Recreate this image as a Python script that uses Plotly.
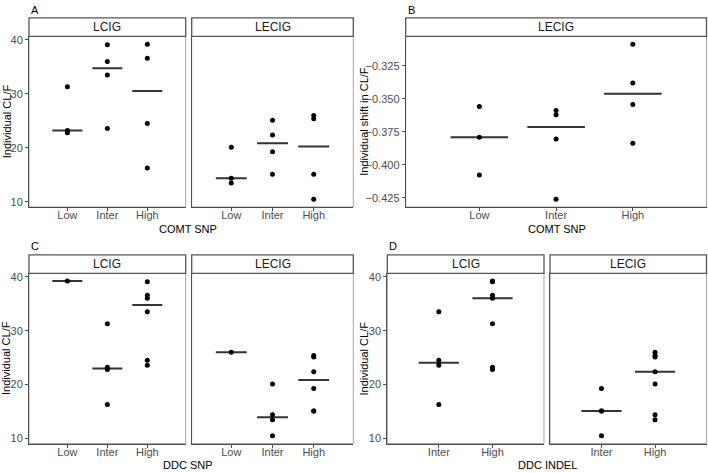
import numpy as np
import plotly.graph_objects as go

W, H = 708, 473

comt_levels = ["Low", "Inter", "High"]
ddc_snp_levels = ["Low", "Inter", "High"]
ddc_indel_levels = ["Inter", "High"]

# A: individual CL/F by COMT SNP
a_lcig = [[31.3, 23.2, 22.8], [39.1, 36.0, 33.5, 23.6], [39.2, 36.6, 24.5, 16.3]]
a_lecig = [[20.1, 14.4, 13.5], [25.1, 22.4, 19.3, 15.1], [26.0, 25.4, 15.1, 10.5]]
# B: individual shift in CL/F (LECIG) by COMT SNP
b_lecig = [[-0.3558, -0.3791, -0.4078],
           [-0.3588, -0.3621, -0.3804, -0.4261],
           [-0.3085, -0.3379, -0.3543, -0.3837]]
# C: individual CL/F by DDC SNP
c_lcig = [[39.2], [31.3, 23.2, 22.8, 16.3], [39.1, 36.6, 36.0, 33.5, 24.5, 23.6]]
c_lecig = [[26.0], [20.1, 14.4, 13.5, 10.5], [25.4, 25.1, 22.4, 19.3, 15.1, 15.1]]
# D: individual CL/F by DDC INDEL
d_lcig = [[33.5, 24.5, 23.6, 16.3], [39.2, 39.1, 36.6, 36.0, 31.3, 23.2, 22.8]]
d_lecig = [[19.3, 15.1, 15.1, 10.5], [26.0, 25.4, 25.1, 22.4, 20.1, 14.4, 13.5]]

FONT = "Liberation Sans"


def px_x(v):
    return v / W


def px_y(v):
    return 1 - v / H


def yrange(groups_list):
    vals = np.concatenate([np.concatenate([np.array(g) for g in groups]) for groups in groups_list])
    lo, hi = vals.min(), vals.max()
    pad = 0.05 * (hi - lo)
    return [lo - pad, hi + pad]


fig = go.Figure()
layout = dict(width=W, height=H, margin=dict(l=0, r=0, t=0, b=0),
              paper_bgcolor="white", plot_bgcolor="white",
              showlegend=False, font=dict(family=FONT, size=11, color="black"))
shapes = []
annotations = []

cl_range = yrange([a_lcig, a_lecig, c_lcig, c_lecig, d_lcig, d_lecig])
b_range = yrange([b_lecig])

# (groups, levels, x0, x1, y0, y1, strip, show y ticks, y range, tick values)
panels = [
    (a_lcig, comt_levels, 29, 185.7, 33.7, 205.7, "LCIG", True, cl_range, [10, 20, 30, 40]),
    (a_lecig, comt_levels, 191.7, 353.3, 33.7, 205.7, "LECIG", False, cl_range, [10, 20, 30, 40]),
    (b_lecig, comt_levels, 405.7, 706.5, 33.7, 205.7, "LECIG", True, b_range,
     [-0.425, -0.4, -0.375, -0.35, -0.325]),
    (c_lcig, ddc_snp_levels, 29, 185.7, 272.7, 444.3, "LCIG", True, cl_range, [10, 20, 30, 40]),
    (c_lecig, ddc_snp_levels, 191.7, 353.3, 272.7, 444.3, "LECIG", False, cl_range, [10, 20, 30, 40]),
    (d_lcig, ddc_indel_levels, 387.3, 544, 272.7, 444.3, "LCIG", True, cl_range, [10, 20, 30, 40]),
    (d_lecig, ddc_indel_levels, 550, 706.5, 272.7, 444.3, "LECIG", False, cl_range, [10, 20, 30, 40]),
]

for i, (groups, levels, x0, x1, y0, y1, strip, showy, yr, tv) in enumerate(panels):
    n = i + 1
    xa = "x" if n == 1 else f"x{n}"
    ya = "y" if n == 1 else f"y{n}"
    pos = np.arange(1, len(levels) + 1)
    # medians
    for p, g in zip(pos, groups):
        m = float(np.median(g))
        fig.add_trace(go.Scatter(x=[p - 0.375, p + 0.375], y=[m, m], mode="lines",
                                 line=dict(color="#333333", width=2),
                                 xaxis=xa, yaxis=ya, hoverinfo="skip"))
    # points
    xs = np.concatenate([[p] * len(g) for p, g in zip(pos, groups)])
    ys = np.concatenate([g for g in groups])
    fig.add_trace(go.Scatter(x=xs, y=ys, mode="markers",
                             marker=dict(color="black", size=5),
                             xaxis=xa, yaxis=ya))
    axis_common = dict(showgrid=False, zeroline=False, showline=True,
                       linecolor="#4d4d4d", linewidth=1, ticks="outside",
                       ticklen=3, tickcolor="#4d4d4d",
                       tickfont=dict(family=FONT, size=11, color="#4d4d4d"))
    layout["xaxis" if n == 1 else f"xaxis{n}"] = dict(
        axis_common, domain=[px_x(x0), px_x(x1)], anchor=ya,
        range=[1 - 0.96, len(levels) + 0.96],
        tickvals=list(pos), ticktext=levels, ticklabelstandoff=-5)
    layout["yaxis" if n == 1 else f"yaxis{n}"] = dict(
        axis_common, domain=[px_y(y1), px_y(y0)], anchor=xa, range=yr,
        tickvals=tv, tickformat=".3f" if yr is b_range else "d",
        showticklabels=showy, ticks="outside" if showy else "")
    # light panel border on top/right
    shapes.append(dict(type="rect", xref="paper", yref="paper",
                       x0=px_x(x0), x1=px_x(x1), y0=px_y(y1), y1=px_y(y0),
                       line=dict(color="#a6a6a6", width=1), layer="below"))
    # strip
    sy0 = y0 - 18.7
    shapes.append(dict(type="rect", xref="paper", yref="paper",
                       x0=px_x(x0), x1=px_x(x1), y0=px_y(y0), y1=px_y(sy0),
                       line=dict(color="#555555", width=1.3), fillcolor="white"))
    annotations.append(dict(text=strip, xref="paper", yref="paper",
                            x=px_x((x0 + x1) / 2), y=px_y((y0 + sy0) / 2),
                            showarrow=False, font=dict(family=FONT, size=12, color="#1a1a1a"),
                            xanchor="center", yanchor="middle"))

# panel letters
for letter, x, y in [("A", 29, 7), ("B", 405.7, 7), ("C", 29, 245), ("D", 387.3, 245)]:
    annotations.append(dict(text=letter, xref="paper", yref="paper", x=px_x(x), y=px_y(y),
                            showarrow=False, xanchor="left", yanchor="middle",
                            font=dict(family=FONT, size=11)))

# x titles
for txt, x, y in [("COMT SNP", 188, 227.5), ("COMT SNP", 556.7, 227.5),
                  ("DDC SNP", 188, 466), ("DDC INDEL", 547.3, 466)]:
    annotations.append(dict(text=txt, xref="paper", yref="paper", x=px_x(x), y=px_y(y),
                            showarrow=False, xanchor="center", yanchor="middle",
                            font=dict(family=FONT, size=11)))

# y titles
for txt, x, y in [("Individual CL/F", 6.5, 119.7), ("Individual shift in CL/F", 364, 119.7),
                  ("Individual CL/F", 6.5, 358.5), ("Individual CL/F", 364, 358.5)]:
    annotations.append(dict(text=txt, xref="paper", yref="paper", x=px_x(x), y=px_y(y),
                            showarrow=False, xanchor="center", yanchor="middle", textangle=-90,
                            font=dict(family=FONT, size=11)))

layout["shapes"] = shapes
layout["annotations"] = annotations
fig.update_layout(**layout)
# drop the default page margin so the figure sits at the window's top-left
fig.write_html("out.html", config={"displayModeBar": False},
               post_script="document.body.style.margin='0';")
